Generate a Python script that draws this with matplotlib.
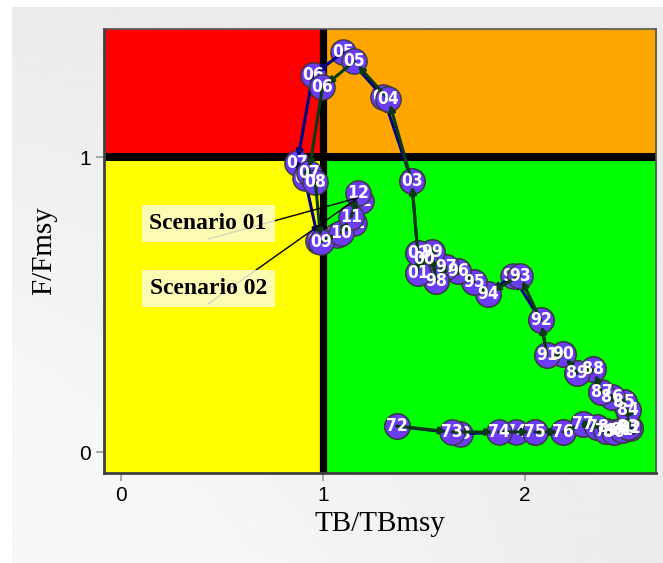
import matplotlib
matplotlib.use("Agg")
import matplotlib.pyplot as plt
import numpy as np

# year labels (1972 .. 2012)
years = ["72", "73", "74", "75", "76", "77", "78", "79", "80", "81",
         "82", "83", "84", "85", "86", "87", "88", "89", "90", "91",
         "92", "93", "94", "95", "96", "97", "98", "99", "00", "01",
         "02", "03", "04", "05", "06", "07", "08", "09", "10", "11", "12"]

# Scenario 02 (green path, drawn on top)
tb_s2 = [1.365, 1.64, 1.87, 2.05, 2.19, 2.29, 2.36, 2.40, 2.44, 2.48,
         2.52, 2.51, 2.51, 2.49, 2.43, 2.38, 2.34, 2.26, 2.19, 2.11,
         2.08, 1.975, 1.82, 1.75, 1.67, 1.61, 1.56, 1.54, 1.50, 1.47,
         1.47, 1.44, 1.325, 1.156, 0.998, 0.93, 0.963, 0.99, 1.09, 1.14, 1.176]
f_s2 = [0.088, 0.068, 0.068, 0.068, 0.068, 0.095, 0.085, 0.072, 0.068, 0.074,
        0.081, 0.085, 0.142, 0.169, 0.186, 0.203, 0.28, 0.267, 0.331, 0.328,
        0.446, 0.598, 0.537, 0.578, 0.615, 0.628, 0.581, 0.679, 0.655, 0.608,
        0.676, 0.919, 1.196, 1.324, 1.236, 0.946, 0.916, 0.713, 0.743, 0.797, 0.878]

# Scenario 01 (blue path)
tb_s1 = [1.365, 1.68, 1.955, 2.05, 2.19, 2.29, 2.36, 2.40, 2.44, 2.48,
         2.52, 2.51, 2.51, 2.49, 2.43, 2.38, 2.34, 2.26, 2.19, 2.11,
         2.08, 1.94, 1.82, 1.75, 1.67, 1.61, 1.56, 1.54, 1.50, 1.47,
         1.47, 1.44, 1.30, 1.10, 0.95, 0.873, 0.91, 0.978, 1.07, 1.155, 1.19]
f_s1 = [0.088, 0.062, 0.068, 0.068, 0.068, 0.095, 0.085, 0.072, 0.068, 0.074,
        0.081, 0.085, 0.142, 0.169, 0.186, 0.203, 0.28, 0.267, 0.331, 0.328,
        0.446, 0.598, 0.537, 0.578, 0.615, 0.628, 0.581, 0.679, 0.655, 0.608,
        0.676, 0.919, 1.203, 1.355, 1.277, 0.98, 0.93, 0.716, 0.735, 0.777, 0.851]

scenarios = ["Scenario 01", "Scenario 02"]


def draw_path(ax, xs, ys, col, z):
    ax.scatter(xs, ys, s=330, c="#6a3cf2", edgecolors="#3a3a3a",
               linewidths=1.0, zorder=z)
    for i in range(len(xs) - 1):
        ax.annotate("", xy=(xs[i + 1], ys[i + 1]), xytext=(xs[i], ys[i]),
                    arrowprops=dict(arrowstyle="-|>", color=col, lw=2.2,
                                    mutation_scale=9, shrinkA=0, shrinkB=4),
                    zorder=z + 1)
    for x, y, lab in zip(xs, ys, years):
        ax.text(x, y, lab, color="white", fontsize=12.5, fontweight="bold",
                family="DejaVu Sans", fontstretch="condensed",
                ha="center", va="center", zorder=z + 2)


def main():
    fig = plt.figure(figsize=(6.63, 5.63), dpi=100, facecolor="white")

    # grey gradient panel behind the plot
    bg = fig.add_axes([12 / 663, 0, 651 / 663, 556 / 563])
    gx = np.linspace(0, 1, 200)
    gy = np.linspace(0, 1, 200)
    GX, GY = np.meshgrid(gx, gy)
    grad = 0.965 - 0.045 * np.clip(1 - (1 - GX) * (1 - GY) * 1.6, 0, 1)
    bg.imshow(grad, cmap="gray", vmin=0, vmax=1, aspect="auto", origin="lower")
    bg.axis("off")

    ax = fig.add_axes([104 / 663, 1 - 473 / 563, 552 / 663, 444 / 563])
    x0, x1 = -0.084, 2.65
    y0, y1 = -0.071, 1.434
    ax.set_xlim(x0, x1)
    ax.set_ylim(y0, y1)

    # stock status quadrants
    ax.fill_between([x0, 1], 1, y1, color="#ff0000", zorder=0)
    ax.fill_between([1, x1], 1, y1, color="#ffa500", zorder=0)
    ax.fill_between([x0, 1], y0, 1, color="#ffff00", zorder=0)
    ax.fill_between([1, x1], y0, 1, color="#00ff00", zorder=0)
    ax.axvline(1, color="black", lw=5.2, zorder=1)
    ax.axhline(1, color="black", lw=5.8, zorder=1)

    draw_path(ax, tb_s1, f_s1, "#000080", 3)
    draw_path(ax, tb_s2, f_s2, "#0b3a12", 6)

    # scenario labels with leader lines to the last year
    lab_y = [0.774, 0.554]
    ends = [(tb_s1[-1] - 0.02, f_s1[-1] + 0.01), (tb_s2[-1] - 0.01, f_s2[-1] - 0.02)]
    for name, ly, (ex, ey) in zip(scenarios, lab_y, ends):
        ax.plot([0.432, ex], [ly - 0.052, ey], color="black", lw=1.0, zorder=10)
        ax.text(0.432, ly, name, fontsize=17, fontweight="bold",
                family="Liberation Serif", ha="center", va="center",
                bbox=dict(boxstyle="square,pad=0.33", facecolor="#fdfcd6",
                          edgecolor="none", alpha=0.85), zorder=11)

    ax.set_xticks([0, 1, 2])
    ax.set_yticks([0, 1])
    ax.tick_params(colors="#9a9a9a", length=6, width=1.2, labelcolor="black",
                   labelsize=15)
    for t in ax.get_xticklabels() + ax.get_yticklabels():
        t.set_family("Liberation Sans")
    for s in ["left", "bottom"]:
        ax.spines[s].set_color("#404040")
        ax.spines[s].set_linewidth(2)
    for s in ["top", "right"]:
        ax.spines[s].set_color("#555555")
        ax.spines[s].set_linewidth(1.2)

    ax.set_xlabel("TB/TBmsy", fontsize=21, family="Liberation Serif", labelpad=4)
    ax.set_ylabel("F/Fmsy", fontsize=21, family="Liberation Serif", labelpad=16)

    fig.savefig("out.png", dpi=100, facecolor="white")


if __name__ == '__main__':
    main()
